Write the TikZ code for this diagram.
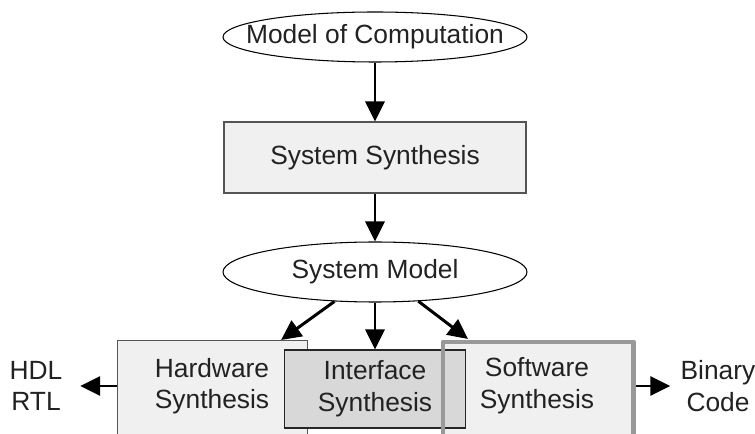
\documentclass[tikz,border=0pt]{standalone}
\usepackage{fontspec}
\setmainfont{Liberation Sans}
\usepackage{xcolor}
\usetikzlibrary{arrows.meta, shapes.geometric}
\definecolor{box-fill}{HTML}{F0F0F0}
\definecolor{iface-fill}{HTML}{D8D8D8}
\definecolor{sw-frame}{HTML}{999999}
\definecolor{ink}{HTML}{222222}
\definecolor{edge}{HTML}{555555}

\begin{document}
\begin{tikzpicture}[every node/.style={font=\fontsize{15}{18}\selectfont, text=ink},
  flow/.style={-{Triangle[length=0.4cm, width=0.38cm]}, line width=1.7pt},
  oval/.style={draw, ellipse, line width=0.6pt, inner sep=0pt},
  stage/.style={draw=edge, fill=box-fill, line width=0.6pt, inner sep=0pt}]
  \useasboundingbox (0,0) rectangle (15.1,8.66);
  \clip (0,0) rectangle (15.1,8.66);
  \node[oval, minimum width=6.08cm, minimum height=1.0cm] (moc) at (7.5,7.92) {\makebox[0pt]{Model of Computation}};
  \node[stage, minimum width=6.04cm, minimum height=1.42cm] (syn) at (7.5,5.51) {System Synthesis};
  \node[oval, minimum width=6.08cm, minimum height=1.2cm] (model) at (7.5,3.22) {System Model};
  \node[stage, anchor=north west, minimum width=3.8cm, minimum height=3cm] (hw) at (2.34,1.86) {};
  \node[fill=box-fill, anchor=north west, minimum width=3.8cm, minimum height=3cm, inner sep=0pt] (sw) at (8.86,1.82) {};
  \node[draw=black!85, fill=iface-fill, line width=0.6pt, minimum width=3.62cm, minimum height=1.56cm,
        inner sep=0pt, align=center] (if) at (7.5,0.88) {Interface\\Synthesis};
  \node[align=center] (hwtxt) at (4.24,0.94) {Hardware\\Synthesis};
  \node[align=center] (swtxt) at (10.74,0.94) {Software\\Synthesis};
  \node[align=center, inner xsep=0.35cm] (hdl) at (0.72,0.94) {HDL\\RTL};
  \node[align=center, inner xsep=0.2cm] (bin) at (14.36,0.94) {Binary\\Code};
  % arrows
  \draw[flow] (moc.south) -- (syn.north);
  \draw[flow] (syn.south) -- (model.north);
  \draw[flow] (model.-144) -- ([xshift=-0.54cm]hw.north east);
  \draw[flow] (model.south) -- (if.north);
  \draw[flow] (model.-34) -- ([xshift=0.5cm, yshift=0.06cm]sw.north west);
  \draw[flow] (hw.west |- hdl) -- (hdl.east);
  \draw[flow] ([xshift=1.4pt]sw.east |- bin) -- (bin.west);
  \draw[sw-frame, line width=2.8pt, line join=round] (sw.south west) -- (sw.north west) -- (sw.north east) -- (sw.south east);
\end{tikzpicture}
\end{document}
